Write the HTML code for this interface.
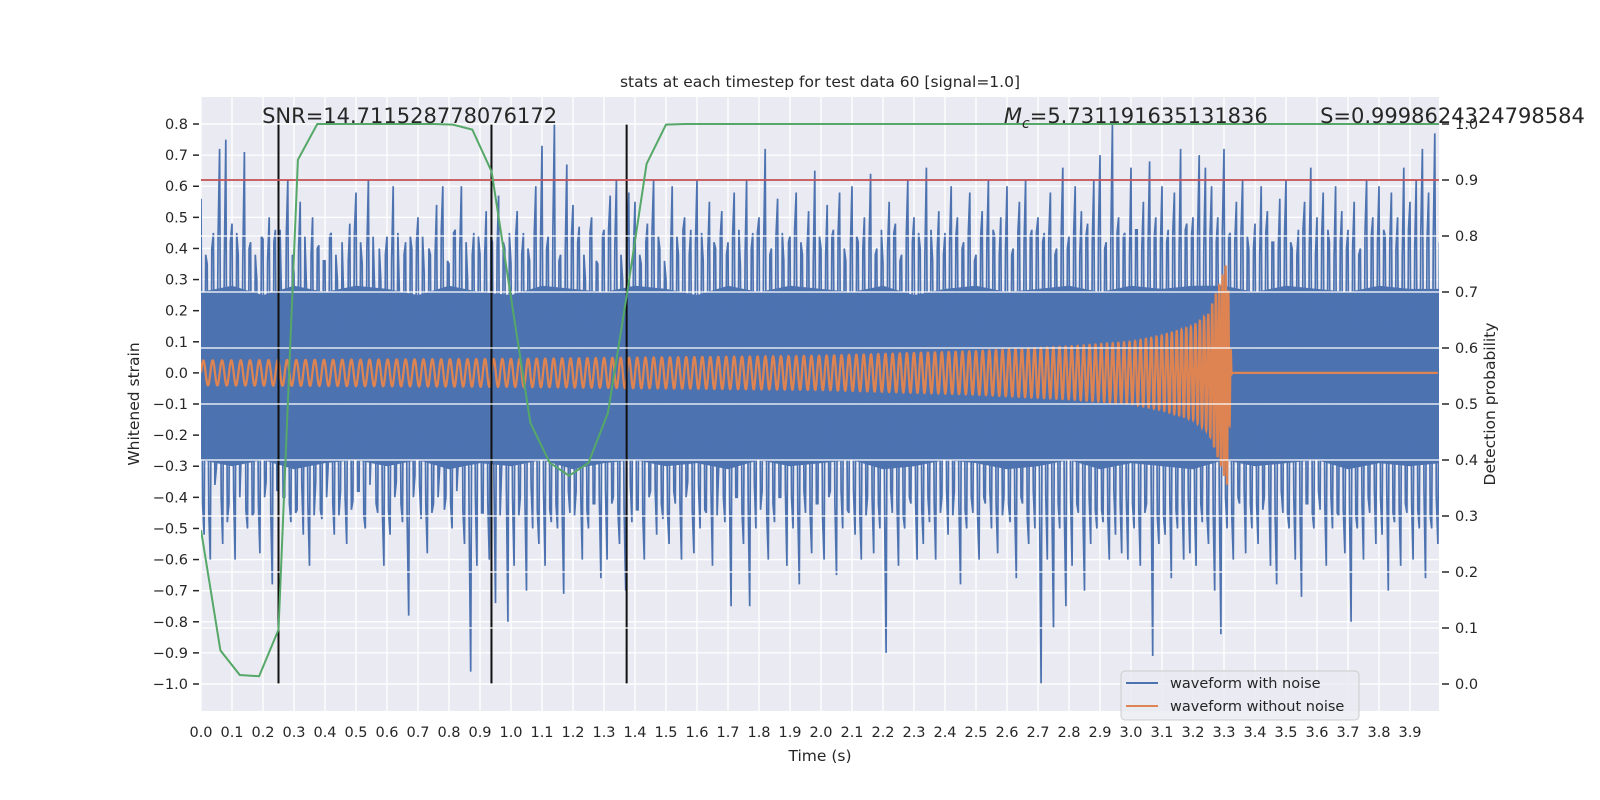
<!DOCTYPE html>
<html><head><meta charset="utf-8"><style>
html,body{margin:0;padding:0;background:#fff;}
svg{display:block;font-family:"DejaVu Sans","Liberation Sans",sans-serif;}
</style></head><body>
<svg id="chart" width="1600" height="800" viewBox="0 0 1600 800"></svg>
<script>
// ---- data ----
const noiseStep = 0.01;
const noiseValues = [
0.56,-0.52,0.35,-0.6,0.45,-0.3,0.72,-0.55,0.75,-0.42,
0.48,-0.6,0.38,-0.25,0.71,-0.5,0.42,-0.45,0.3,-0.58,
0.43,-0.35,0.5,-0.68,0.46,-0.2,0.22,-0.4,0.62,-0.48,
0.32,-0.44,0.55,-0.52,0.28,-0.62,0.5,-0.35,0.41,-0.47,
0.36,-0.3,0.45,-0.52,0.3,-0.38,0.25,-0.55,0.48,-0.41,
0.58,-0.38,0.35,-0.5,0.62,-0.22,0.27,-0.45,0.3,-0.62,
0.44,-0.52,0.6,-0.35,0.25,-0.48,0.42,-0.78,0.4,-0.33,
0.5,-0.47,0.32,-0.58,0.38,-0.42,0.54,-0.3,0.6,-0.4,
0.35,-0.5,0.46,-0.28,0.6,-0.55,0.3,-0.96,0.45,-0.62,
0.38,-0.45,0.52,-0.6,0.42,-0.74,0.57,-0.3,0.4,-0.8,
0.35,-0.62,0.52,-0.4,0.45,-0.7,0.36,-0.5,0.6,-0.55,
0.73,-0.62,0.44,-0.48,0.8,-0.5,0.38,-0.71,0.67,-0.45,
0.54,-0.38,0.47,-0.6,0.3,-0.5,0.5,-0.42,0.35,-0.66,
0.46,-0.6,0.57,-0.4,0.62,-0.55,0.3,-0.7,0.58,-0.48,
0.55,-0.44,0.35,-0.6,0.48,-0.38,0.62,-0.52,0.4,-0.47,
0.3,-0.55,0.6,-0.42,0.38,-0.6,0.5,-0.35,0.46,-0.58,
0.62,-0.5,0.36,-0.45,0.55,-0.62,0.4,-0.3,0.52,-0.48,
0.42,-0.75,0.58,-0.4,0.34,-0.55,0.62,-0.75,0.45,-0.5,
0.5,-0.38,0.72,-0.6,0.4,-0.48,0.56,-0.4,0.36,-0.62,
0.44,-0.5,0.58,-0.68,0.38,-0.45,0.52,-0.58,0.65,-0.42,
0.4,-0.6,0.54,-0.38,0.46,-0.65,0.58,-0.5,0.36,-0.45,
0.6,-0.52,0.42,-0.6,0.5,-0.4,0.64,-0.58,0.4,-0.5,
0.35,-0.9,0.55,-0.45,0.48,-0.62,0.38,-0.5,0.62,-0.42,
0.5,-0.6,0.4,-0.55,0.66,-0.48,0.36,-0.6,0.52,-0.4,
0.45,-0.52,0.6,-0.38,0.5,-0.68,0.42,-0.5,0.58,-0.45,
0.38,-0.6,0.52,-0.42,0.62,-0.5,0.44,-0.58,0.5,-0.4,
0.6,-0.48,0.4,-0.66,0.55,-0.42,0.62,-0.55,0.46,-0.5,
0.5,-1.0,0.45,-0.6,0.58,-0.82,0.4,-0.5,0.66,-0.75,
0.44,-0.62,0.6,-0.45,0.52,-0.7,0.48,-0.55,0.62,-0.5,
0.7,-0.48,0.42,-0.6,0.8,-0.52,0.5,-0.58,0.45,-0.6,
0.66,-0.5,0.46,-0.62,0.55,-0.42,0.68,-0.91,0.5,-0.55,
0.6,-0.52,0.46,-0.66,0.58,-0.5,0.72,-0.6,0.48,-0.58,
0.5,-0.62,0.7,-0.48,0.66,-0.55,0.6,-0.7,0.5,-0.84,
0.72,-0.5,0.45,-0.6,0.55,-0.42,0.62,-0.58,0.4,-0.5,
0.48,-0.55,0.6,-0.4,0.52,-0.62,0.42,-0.68,0.56,-0.45,
0.62,-0.5,0.4,-0.6,0.46,-0.72,0.55,-0.42,0.66,-0.5,
0.5,-0.44,0.58,-0.62,0.42,-0.5,0.6,-0.46,0.52,-0.58,
0.46,-0.8,0.55,-0.5,0.4,-0.6,0.62,-0.45,0.5,-0.55,
0.6,-0.52,0.44,-0.7,0.58,-0.48,0.5,-0.62,0.66,-0.45,
0.55,-0.6,0.62,-0.5,0.72,-0.66,0.58,-0.5,0.77,-0.55];
// interleaved samples (offset by half a step)
const noiseValuesMid = [
-0.42,0.38,-0.45,0.4,-0.36,0.44,-0.4,0.35,-0.48,0.42,
-0.38,0.45,-0.4,0.36,-0.44,0.4,-0.46,0.38,-0.42,0.44,
-0.4,0.36,-0.45,0.42,-0.38,0.46,-0.4,0.44,-0.42,0.38,
-0.45,0.4,-0.36,0.44,-0.42,0.38,-0.46,0.4,-0.44,0.36,
-0.4,0.44,-0.42,0.38,-0.46,0.42,-0.4,0.36,-0.44,0.45,
-0.38,0.42,-0.46,0.4,-0.36,0.44,-0.42,0.4,-0.45,0.38,
-0.44,0.36,-0.4,0.45,-0.42,0.38,-0.46,0.44,-0.4,0.42,
-0.36,0.44,-0.42,0.4,-0.45,0.38,-0.4,0.46,-0.44,0.36,
-0.42,0.45,-0.38,0.4,-0.44,0.42,-0.46,0.38,-0.4,0.44,
-0.45,0.38,-0.42,0.44,-0.36,0.4,-0.46,0.42,-0.38,0.45,
-0.4,0.44,-0.46,0.38,-0.42,0.4,-0.36,0.45,-0.44,0.42,
-0.38,0.4,-0.44,0.46,-0.42,0.36,-0.45,0.4,-0.38,0.44,
-0.46,0.42,-0.4,0.38,-0.44,0.45,-0.42,0.36,-0.4,0.44,
-0.38,0.46,-0.42,0.4,-0.45,0.38,-0.44,0.42,-0.36,0.4,
-0.44,0.38,-0.46,0.42,-0.4,0.45,-0.38,0.44,-0.42,0.36,
-0.45,0.4,-0.38,0.44,-0.42,0.46,-0.4,0.38,-0.44,0.42,
-0.36,0.45,-0.44,0.4,-0.38,0.42,-0.46,0.44,-0.4,0.38,
-0.42,0.44,-0.4,0.46,-0.45,0.38,-0.42,0.4,-0.36,0.45,
-0.44,0.4,-0.46,0.38,-0.42,0.44,-0.4,0.45,-0.38,0.42,
-0.4,0.46,-0.44,0.42,-0.38,0.4,-0.45,0.36,-0.42,0.44,
-0.46,0.38,-0.4,0.44,-0.42,0.45,-0.38,0.4,-0.44,0.42,
-0.38,0.44,-0.45,0.4,-0.46,0.42,-0.4,0.38,-0.42,0.46,
-0.44,0.4,-0.38,0.45,-0.42,0.36,-0.46,0.44,-0.4,0.42,
-0.42,0.45,-0.44,0.38,-0.4,0.46,-0.42,0.4,-0.45,0.38,
-0.38,0.42,-0.46,0.44,-0.42,0.4,-0.44,0.45,-0.4,0.36,
-0.45,0.44,-0.4,0.42,-0.38,0.46,-0.42,0.38,-0.46,0.4,
-0.42,0.38,-0.44,0.45,-0.4,0.42,-0.46,0.44,-0.38,0.45,
-0.46,0.42,-0.4,0.44,-0.45,0.38,-0.42,0.46,-0.44,0.4,
-0.4,0.45,-0.42,0.38,-0.46,0.44,-0.4,0.42,-0.44,0.46,
-0.44,0.4,-0.46,0.42,-0.38,0.45,-0.42,0.44,-0.4,0.38,
-0.42,0.46,-0.44,0.4,-0.45,0.42,-0.38,0.44,-0.46,0.42,
-0.46,0.42,-0.4,0.45,-0.44,0.38,-0.42,0.46,-0.4,0.44,
-0.44,0.46,-0.42,0.4,-0.46,0.44,-0.45,0.42,-0.4,0.46,
-0.4,0.44,-0.46,0.42,-0.4,0.45,-0.38,0.44,-0.42,0.4,
-0.42,0.38,-0.44,0.45,-0.4,0.42,-0.46,0.4,-0.38,0.44,
-0.45,0.42,-0.4,0.38,-0.44,0.46,-0.42,0.4,-0.45,0.38,
-0.38,0.44,-0.42,0.46,-0.4,0.38,-0.45,0.42,-0.44,0.4,
-0.44,0.4,-0.46,0.38,-0.42,0.45,-0.4,0.44,-0.38,0.42,
-0.4,0.46,-0.38,0.42,-0.45,0.4,-0.44,0.38,-0.42,0.46,
-0.42,0.4,-0.44,0.45,-0.38,0.42,-0.46,0.44,-0.4,0.42];
// dense noise core band (per 0.1 s)
const coreStep = 0.1;
const coreUpper = [0.26,0.28,0.25,0.28,0.26,0.28,0.27,0.25,0.28,0.26,0.25,0.28,0.27,0.26,0.28,0.27,0.25,0.28,0.26,0.28,0.27,0.26,0.28,0.25,0.27,0.28,0.26,0.27,0.28,0.26,0.28,0.27,0.28,0.28,0.26,0.28,0.27,0.26,0.28,0.27,0.27];
const coreLower = [-0.28,-0.3,-0.28,-0.31,-0.29,-0.28,-0.3,-0.28,-0.31,-0.29,-0.3,-0.28,-0.31,-0.29,-0.28,-0.3,-0.29,-0.31,-0.28,-0.3,-0.29,-0.28,-0.31,-0.3,-0.28,-0.29,-0.31,-0.3,-0.28,-0.31,-0.29,-0.3,-0.31,-0.28,-0.3,-0.29,-0.28,-0.31,-0.29,-0.3,-0.29];
// clean signal: amplitude envelope and frequency keyframes
const ampTimes = [0,1,1.5,2,2.5,2.8,3.0,3.1,3.2,3.25,3.29,3.31,3.325,4];
const ampValues = [0.04,0.045,0.05,0.055,0.07,0.085,0.1,0.12,0.15,0.19,0.3,0.36,0.0,0.0];
const freqTimes = [0,0.5,1,1.5,2,2.5,2.8,3.0,3.1,3.2,3.25,3.3,3.33,4];
const freqValues = [33,34,36,38,41,46,51,56,60,68,76,100,140,140];
// detection probability per step
const probStep = 0.0625;
const probValues = [0.275,0.06,0.016,0.014,0.097,0.936,1.0,1.0,1.0,1.0,1.0,1.0,1.0,0.999,0.99,0.915,0.69,0.466,0.395,0.372,0.395,0.484,0.70,0.929,0.999,
1,1,1,1,1,1,1,1,1,1,1,1,1,1,1,1,1,1,1,1,1,1,1,1,1,1,1,1,1,1,1,1,1,1,1,1,1,1,1,1];
const threshold = 0.9;
const eventTimes = [0.25,0.937,1.373];
const annotations = [["SNR=14.711528778076172",0.197],["Mc",2.59],["S=0.9998624324798584",3.61]];
const xTicks = [0,0.1,0.2,0.3,0.4,0.5,0.6,0.7,0.8,0.9,1.0,1.1,1.2,1.3,1.4,1.5,1.6,1.7,1.8,1.9,2.0,2.1,2.2,2.3,2.4,2.5,2.6,2.7,2.8,2.9,3.0,3.1,3.2,3.3,3.4,3.5,3.6,3.7,3.8,3.9];
const yTicks = [0.8,0.7,0.6,0.5,0.4,0.3,0.2,0.1,0.0,-0.1,-0.2,-0.3,-0.4,-0.5,-0.6,-0.7,-0.8,-0.9,-1.0];
const pTicks = [0,0.1,0.2,0.3,0.4,0.5,0.6,0.7,0.8,0.9,1.0];

// ---- scales ----
const L=201,R=1439,T=97,B=711;
const X=t=>L+t*310;
const Y1=v=>372.9-v*311.1;
const Y2=p=>684-p*560;
const NS='http://www.w3.org/2000/svg';
const svg=document.getElementById('chart');
function mk(tag,attrs,parent){const e=document.createElementNS(NS,tag);for(const k in attrs)e.setAttribute(k,attrs[k]);(parent||svg).appendChild(e);return e;}
function interp(ts,vs,t){if(t<=ts[0])return vs[0];for(let i=1;i<ts.length;i++){if(t<=ts[i]){const f=(t-ts[i-1])/(ts[i]-ts[i-1]);return vs[i-1]+f*(vs[i]-vs[i-1]);}}return vs[vs.length-1];}
const fmt=v=>(v<0?'\u2212':'')+Math.abs(v).toFixed(1);

const defs=mk('defs',{});
const cp=mk('clipPath',{id:'plotclip'},defs);
mk('rect',{x:L,y:T,width:R-L,height:B-T},cp);

const bg=mk('rect',{x:L,y:T,width:R-L,height:B-T,fill:'#eaeaf2'});



// left grid
const g1=mk('g',{stroke:'#fff','stroke-width':1.3});


xTicks.forEach(t=>mk('line',{x1:X(t),x2:X(t),y1:T,y2:B},g1));
yTicks.forEach(v=>mk('line',{x1:L,x2:R,y1:Y1(v),y2:Y1(v)},g1));

const plot=mk('g',{'clip-path':'url(#plotclip)'});
// noise core band
let cd='';
coreUpper.forEach((v,i)=>{cd+=(i?'L':'M')+X(i*coreStep).toFixed(1)+' '+Y1(v).toFixed(1);});
for(let i=coreLower.length-1;i>=0;i--){cd+='L'+X(i*coreStep).toFixed(1)+' '+Y1(coreLower[i]).toFixed(1);}
cd+='Z';
const core=mk('path',{d:cd,fill:'#4c72b0',stroke:'none'},plot);


// noise as polyline, merging main and interleaved samples
let d='';
noiseValues.forEach((v,i)=>{
  d+=(i?'L':'M')+X(i*noiseStep).toFixed(1)+' '+Y1(v).toFixed(1);
  if(i<noiseValuesMid.length) d+='L'+X((i+0.5)*noiseStep).toFixed(1)+' '+Y1(noiseValuesMid[i]).toFixed(1);
});
const blue=mk('path',{d:d,fill:'none',stroke:'#4c72b0','stroke-width':1.7,'stroke-linejoin':'miter','stroke-miterlimit':2},plot);


// clean signal
let ph=0,dd='',dt=0.0002;
for(let t=0;t<=3.99;t+=dt){
  const a=interp(ampTimes,ampValues,t);
  const f=interp(freqTimes,freqValues,t);
  ph+=2*Math.PI*f*dt;
  dd+=(t?'L':'M')+X(t).toFixed(2)+' '+Y1(a*Math.sin(ph)).toFixed(2);
}
const orange=mk('path',{d:dd,fill:'none',stroke:'#dd8452','stroke-width':2.3},plot);


// event lines
eventTimes.forEach(t=>{
  const l=mk('line',{x1:X(t),x2:X(t),y1:Y1(0.8),y2:Y1(-1.0),stroke:'#111','stroke-width':2},plot);
  
  
});
// right grid (above)
const g2=mk('g',{stroke:'#fff','stroke-width':1.3});


pTicks.forEach(p=>mk('line',{x1:L,x2:R,y1:Y2(p),y2:Y2(p)},g2));
// threshold
const red=mk('line',{x1:L,x2:R,y1:Y2(threshold),y2:Y2(threshold),stroke:'#c44e52','stroke-width':1.8});


// probability
let gd='';
probValues.forEach((p,i)=>{gd+=(i?'L':'M')+X(i*probStep).toFixed(1)+' '+Y2(p).toFixed(1);});
const plot2=mk('g',{'clip-path':'url(#plotclip)'});
const green=mk('path',{d:gd,fill:'none',stroke:'#55a868','stroke-width':2},plot2);



// annotations
annotations.forEach(([txt,t])=>{
  const e=mk('text',{x:X(t),y:Y1(0.8)-1,'font-size':21,fill:'#262626'});
  if(txt==='Mc'){
    const a=mk('tspan',{'font-style':'italic'},e);a.textContent='M';
    const b=mk('tspan',{'font-style':'italic','font-size':14,dy:5},e);b.textContent='c';
    const c=mk('tspan',{dy:-5},e);c.textContent='=5.731191635131836';
    
  } else {
    e.textContent=txt;
    
  }
  
});

// ticks
const tl=mk('g',{'font-size':14.5,fill:'#262626'});
xTicks.forEach(t=>{const e=mk('text',{x:X(t),y:737,'text-anchor':'middle'},tl);e.textContent=t.toFixed(1);

});
yTicks.forEach(v=>{const e=mk('text',{x:188,y:Y1(v)+5,'text-anchor':'end'},tl);e.textContent=fmt(v);


mk('line',{x1:193,x2:199,y1:Y1(v),y2:Y1(v),stroke:'#262626','stroke-width':1.5},tl);});
pTicks.forEach(p=>{const e=mk('text',{x:1455,y:Y2(p)+5},tl);e.textContent=p.toFixed(1);


mk('line',{x1:1442,x2:1449,y1:Y2(p),y2:Y2(p),stroke:'#262626','stroke-width':1.5},tl);});

function label(txt,attrs,name){const e=mk('text',Object.assign({fill:'#262626','text-anchor':'middle'},attrs));e.textContent=txt;

return e;}
label('stats at each timestep for test data 60 [signal=1.0]',{x:820,y:87,'font-size':15.5},'chart-title');
label('Time (s)',{x:820,y:761,'font-size':15.5},'x-axis-title');
label('Whitened strain',{x:0,y:0,'font-size':15.5,transform:'translate(139,404) rotate(-90)'},'y-axis-title');
label('Detection probability',{x:0,y:0,'font-size':15.5,transform:'translate(1495,404) rotate(-90)'},'right-axis-title');

// legend
const lg=mk('g',{});


mk('rect',{x:1121,y:671,width:238,height:49,rx:4,fill:'#eaeaf2','fill-opacity':0.8,stroke:'#cccccc','stroke-width':1},lg);
[['waveform with noise','#4c72b0',683],['waveform without noise','#dd8452',706]].forEach(([t,c,y])=>{
  const en=mk('g',{},lg);
  
  
  mk('line',{x1:1126,x2:1158,y1:y,y2:y,stroke:c,'stroke-width':2},en);
  const e=mk('text',{x:1170,y:y+5,'font-size':14.5,fill:'#262626'},en);e.textContent=t;
});
</script>
</body></html>
